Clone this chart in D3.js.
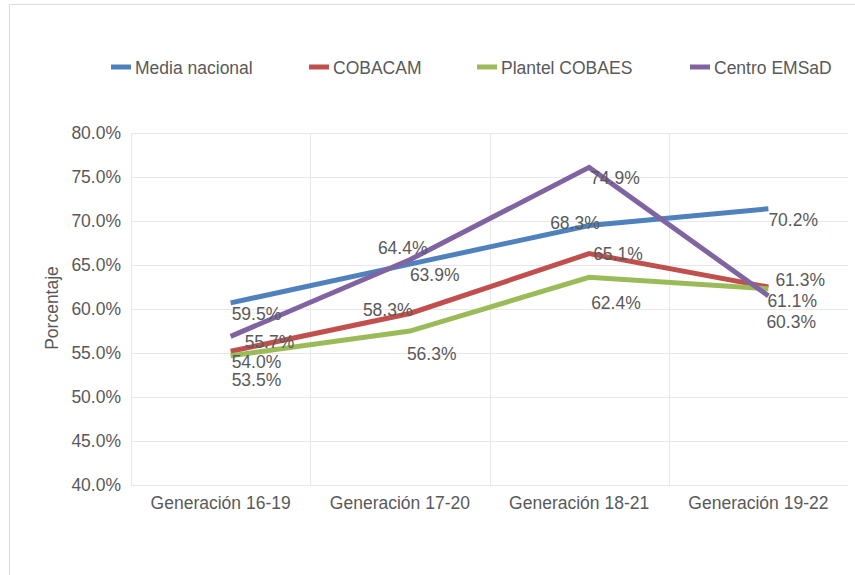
<!DOCTYPE html>
<html>
<head>
<meta charset="utf-8">
<script src="https://cdn.jsdelivr.net/npm/d3@7"></script>
<style>
  html, body { margin: 0; padding: 0; background: #fff; }
  svg { display: block; font-family: "Liberation Sans", Arial, sans-serif; }
</style>
</head>
<body>
<svg id="chart" width="855" height="575"></svg>
<script>
// ---- data ----
const categories = ["Generación 16-19", "Generación 17-20", "Generación 18-21", "Generación 19-22"];
const seriesNames = ["Media nacional", "COBACAM", "Plantel COBAES", "Centro EMSaD"];
const mediaNacional = [59.5, 63.9, 68.3, 70.2];
const cobacam = [54.0, 58.3, 65.1, 61.3];
const plantelCobaes = [53.5, 56.3, 62.4, 61.1];
const centroEmsad = [55.7, 64.4, 74.9, 60.3];
const yTicks = [40, 45, 50, 55, 60, 65, 70, 75, 80];
const yAxisTitle = "Porcentaje";

// ---- styling / layout ----
const colors = ["#4F81BD", "#C0504D", "#9BBB59", "#8064A2"];
const textColor = "#595959";
const gridColor = "#e8e8e8";
const fontSize = 17.5;

const seriesValues = [mediaNacional, cobacam, plantelCobaes, centroEmsad];
// label placement offsets relative to each point (text left edge, text middle)
const labelOffsets = [
  [[11, 0], [10, 0], [-29, -13], [10, 1]],
  [[11, 0], [-37, -14], [14, -10], [17, -18]],
  [[11, 14], [7, 12], [12, 15], [9, 2]],
  [[24, -5], [-22, -22], [11, 0], [8, 16]]
];
const lineShift = [10, -10.5];

const svg = d3.select("#chart");

// outer frame
svg.append("path")
  .attr("d", "M9.5,575 L9.5,4.5 L855,4.5")
  .attr("fill", "none")
  .attr("stroke", "#dcdcdc")
  .attr("stroke-width", 1);

const x = d3.scaleBand().domain(categories).range([131, 848]).padding(0);
const y = d3.scaleLinear().domain([40, 80]).range([485, 133]);

// horizontal gridlines
svg.append("g").selectAll("line").data(yTicks).join("line")
  .attr("x1", x.range()[0]).attr("x2", x.range()[1])
  .attr("y1", d => Math.round(y(d)) + 0.5).attr("y2", d => Math.round(y(d)) + 0.5)
  .attr("stroke", gridColor).attr("stroke-width", 1);

// vertical gridlines (category boundaries)
svg.append("g").selectAll("line").data(categories).join("line")
  .attr("x1", d => Math.round(x(d)) + 0.5).attr("x2", d => Math.round(x(d)) + 0.5)
  .attr("y1", y(80)).attr("y2", y(40))
  .attr("stroke", gridColor).attr("stroke-width", 1);

// y axis labels
const yAxis = d3.axisLeft(y).tickValues(yTicks).tickSize(0).tickPadding(0)
  .tickFormat(d => d3.format(".1f")(d) + "%");
const gy = svg.append("g").attr("transform", "translate(121,0)").call(yAxis);
gy.select(".domain").remove();
gy.selectAll("text").attr("fill", textColor).attr("font-size", fontSize)
  .attr("font-family", "Liberation Sans, Arial, sans-serif");

// x axis labels
const xAxis = d3.axisBottom(x).tickSize(0).tickPadding(0);
const gx = svg.append("g").attr("transform", "translate(0,497)").call(xAxis);
gx.select(".domain").remove();
gx.selectAll("text").attr("fill", textColor).attr("font-size", fontSize)
  .attr("font-family", "Liberation Sans, Arial, sans-serif");

// y axis title
svg.append("text")
  .attr("transform", "translate(52,308) rotate(-90)")
  .attr("text-anchor", "middle")
  .attr("dominant-baseline", "central")
  .attr("fill", textColor)
  .attr("font-size", fontSize)
  .text(yAxisTitle);

// lines
const line = d3.line()
  .x((d, i) => x(categories[i]) + x.bandwidth() / 2)
  .y(d => y(d));

const linesG = svg.append("g").attr("transform", `translate(${lineShift[0]},${lineShift[1]})`);
seriesValues.forEach((vals, s) => {
  linesG.append("path")
    .datum(vals)
    .attr("d", line)
    .attr("fill", "none")
    .attr("stroke", colors[s])
    .attr("stroke-width", 5)
    .attr("stroke-linejoin", "miter")
    .attr("stroke-linecap", "butt");
});

// data labels
seriesValues.forEach((vals, s) => {
  svg.append("g").selectAll("text").data(vals).join("text")
    .attr("x", (d, i) => x(categories[i]) + x.bandwidth() / 2 + labelOffsets[s][i][0])
    .attr("y", (d, i) => y(d) + labelOffsets[s][i][1])
    .attr("dy", "0.35em")
    .attr("fill", textColor)
    .attr("font-size", fontSize)
    .text(d => d3.format(".1f")(d) + "%");
});

// legend
const legendX = [111, 309, 477, 690];
const legend = svg.append("g");
seriesNames.forEach((name, s) => {
  legend.append("rect")
    .attr("x", legendX[s]).attr("y", 64.5)
    .attr("width", 20).attr("height", 5)
    .attr("fill", colors[s]);
  legend.append("text")
    .attr("x", legendX[s] + 24).attr("y", 68)
    .attr("dy", "0.35em")
    .attr("fill", textColor)
    .attr("font-size", fontSize)
    .text(name);
});
</script>
</body>
</html>
